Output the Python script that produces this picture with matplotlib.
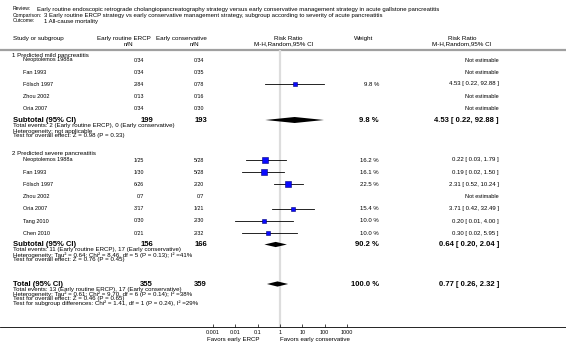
import numpy as np
import matplotlib
matplotlib.use("Agg")
import matplotlib.pyplot as plt

plt.rcParams['font.family'] = ['Liberation Sans', 'DejaVu Sans']

# ---- data ----
review = "Early routine endoscopic retrograde cholangiopancreatography strategy versus early conservative management strategy in acute gallstone pancreatitis"
comparison = "3 Early routine ERCP strategy vs early conservative management strategy, subgroup according to severity of acute pancreatitis"
outcome = "1 All-cause mortality"

mild_studies = ["Neoptolemos 1988a", "Fan 1993", "Fölsch 1997", "Zhou 2002", "Oria 2007"]
mild_ercp = ["0/34", "0/34", "2/84", "0/13", "0/34"]
mild_cons = ["0/34", "0/35", "0/78", "0/16", "0/30"]
mild_rr = [None, None, 4.53, None, None]
mild_lo = [None, None, 0.22, None, None]
mild_hi = [None, None, 92.88, None, None]
mild_w = [None, None, 9.8, None, None]

sev_studies = ["Neoptolemos 1988a", "Fan 1993", "Fölsch 1997", "Zhou 2002", "Oria 2007", "Tang 2010", "Chen 2010"]
sev_ercp = ["1/25", "1/30", "6/26", "0/7", "3/17", "0/30", "0/21"]
sev_cons = ["5/28", "5/28", "2/20", "0/7", "1/21", "2/30", "2/32"]
sev_rr = [0.22, 0.19, 2.31, None, 3.71, 0.20, 0.30]
sev_lo = [0.03, 0.02, 0.52, None, 0.42, 0.01, 0.02]
sev_hi = [1.79, 1.50, 10.24, None, 32.49, 4.00, 5.95]
sev_w = [16.2, 16.1, 22.5, None, 15.4, 10.0, 10.0]

# subtotal / total: N ercp, N cons, weight, rr, lo, hi
mild_sub = (199, 193, 9.8, 4.53, 0.22, 92.88)
sev_sub = (156, 166, 90.2, 0.64, 0.20, 2.04)
total = (355, 359, 100.0, 0.77, 0.26, 2.32)

mild_notes = ["Total events: 2 (Early routine ERCP), 0 (Early conservative)",
              "Heterogeneity: not applicable",
              "Test for overall effect: Z = 0.98 (P = 0.33)"]
sev_notes = ["Total events: 11 (Early routine ERCP), 17 (Early conservative)",
             "Heterogeneity: Tau² = 0.64; Chi² = 8.46, df = 5 (P = 0.13); I² =41%",
             "Test for overall effect: Z = 0.76 (P = 0.45)"]
total_notes = ["Total events: 13 (Early routine ERCP), 17 (Early conservative)",
               "Heterogeneity: Tau² = 0.61; Chi² = 9.70, df = 6 (P = 0.14); I² =38%",
               "Test for overall effect: Z = 0.46 (P = 0.65)",
               "Test for subgroup differences: Chi² = 1.41, df = 1 (P = 0.24), I² =29%"]

ticks = [0.001, 0.01, 0.1, 1, 10, 100, 1000]
tick_labels = ["0.001", "0.01", "0.1", "1", "10", "100", "1000"]

# ---- figure ----
W, H = 566, 344
fig = plt.figure(figsize=(W / 100, H / 100), dpi=100)
ax = fig.add_axes([0, 0, 1, 1])
ax.set_xlim(0, W)
ax.set_ylim(H, 0)
ax.axis('off')

# forest panel, y in the same units as the text axes
x0, x1, ytop, ybot = 213, 347, 50, 327
fax = fig.add_axes([x0 / W, (H - ybot) / H, (x1 - x0) / W, (ybot - ytop) / H])
fax.set_xscale('log')
fax.set_xlim(0.001, 1000)
fax.set_ylim(ybot, ytop)
fax.patch.set_alpha(0)
for s in fax.spines.values():
    s.set_visible(False)
fax.set_yticks([])
fax.set_xticks(ticks)
fax.set_xticklabels(tick_labels)
fax.minorticks_off()
fax.tick_params(axis='x', direction='in', length=2.5, width=0.5, labelsize=3.9, pad=2)
fax.axvline(1, color='#dddddd', lw=1.6, zorder=0)

fs = 4.0      # study rows
fsr = 4.3     # weight / risk ratio columns
fsn = 4.45    # footnotes, group labels
fsh = 4.5     # column headers
fst = 4.35    # title lines
fsb = 5.5     # bold summary rows

def txt(x, y, s, ha='left', size=fs, weight='normal'):
    ax.text(x, y, s, ha=ha, va='center', fontsize=size, fontweight=weight)

# titles
txt(13, 9, "Review:", size=3.7)
txt(37, 9, review, size=fst)
txt(13, 15, "Comparison:", size=3.7)
txt(44, 15, comparison, size=fst)
txt(13, 21, "Outcome:", size=3.7)
txt(44, 21, outcome, size=fst)

# column headers
txt(13, 38.5, "Study or subgroup", size=fsh)
txt(124, 38.5, "Early routine ERCP", ha='center', size=fsh)
txt(128, 44, "n/N", ha='center', size=fsh)
txt(181.5, 38.5, "Early conservative", ha='center', size=fsh)
txt(194.5, 44, "n/N", ha='center', size=fsh)
txt(288, 38.5, "Risk Ratio", ha='center', size=fsh)
txt(284, 44, "M-H,Random,95% CI", ha='center', size=fsh)
txt(354, 38.5, "Weight", size=fsh)
txt(462, 38.5, "Risk Ratio", ha='center', size=fsh)
txt(462, 44, "M-H,Random,95% CI", ha='center', size=fsh)
ax.plot([0, W], [49.5, 49.5], color='#a0a0a0', lw=1.6)
ax.plot([0, W], [ybot, ybot], color='black', lw=0.6)


def study_rows(names, ercp, cons, rr, lo, hi, w, y_first, step):
    for i in range(len(names)):
        y = y_first + i * step
        txt(23, y, names[i])
        txt(144, y, ercp[i], ha='right', size=3.8)
        txt(204, y, cons[i], ha='right', size=3.8)
        if rr[i] is None:
            txt(499, y, "Not estimable", ha='right')
            continue
        txt(379, y, f"{w[i]:.1f} %", ha='right', size=fsr)
        txt(499, y, f"{rr[i]:.2f} [ {lo[i]:.2f}, {hi[i]:.2f} ]", ha='right', size=fsr)
        fax.plot([lo[i], hi[i]], [y, y], color='black', lw=0.6, zorder=2)
        side = 1.26 * np.sqrt(w[i]) * 0.72
        fax.plot([rr[i]], [y], marker='s', ms=side, mfc='#0a0aff', mec='#00007a',
                 mew=0.4, zorder=3)


def summary_row(label, vals, y, half_h):
    n1, n2, w, rr, lo, hi = vals
    txt(13, y, label, size=fsb, weight='bold')
    txt(153, y, str(n1), ha='right', size=fsb, weight='bold')
    txt(207, y, str(n2), ha='right', size=fsb, weight='bold')
    txt(379, y, f"{w:.1f} %", ha='right', size=fsb, weight='bold')
    txt(499, y, f"{rr:.2f} [ {lo:.2f}, {hi:.2f} ]", ha='right', size=fsb, weight='bold')
    fax.fill([lo, rr, hi, rr], [y, y - half_h, y, y + half_h], color='black', lw=0, zorder=3)


def notes(lines, y_first, step):
    for i, s in enumerate(lines):
        txt(13, y_first + i * step, s, size=fsn)


# subgroup 1
txt(12, 55.5, "1 Predicted mild pancreatitis", size=fsn)
study_rows(mild_studies, mild_ercp, mild_cons, mild_rr, mild_lo, mild_hi, mild_w, 60, 12)
summary_row("Subtotal (95% CI)", mild_sub, 120, 3)
notes(mild_notes, 126, 5)

# subgroup 2
txt(12, 154, "2 Predicted severe pancreatitis", size=fsn)
study_rows(sev_studies, sev_ercp, sev_cons, sev_rr, sev_lo, sev_hi, sev_w, 160, 12.2)
summary_row("Subtotal (95% CI)", sev_sub, 244.5, 2.6)
notes(sev_notes, 250, 5)

# total
summary_row("Total (95% CI)", total, 284, 2.6)
notes(total_notes, 289.5, 4.6)

txt(233, 339, "Favors early ERCP", ha='center', size=fsn)
txt(280, 339, "Favors early conservative", size=fsn)

fig.savefig("out.png", dpi=100)
